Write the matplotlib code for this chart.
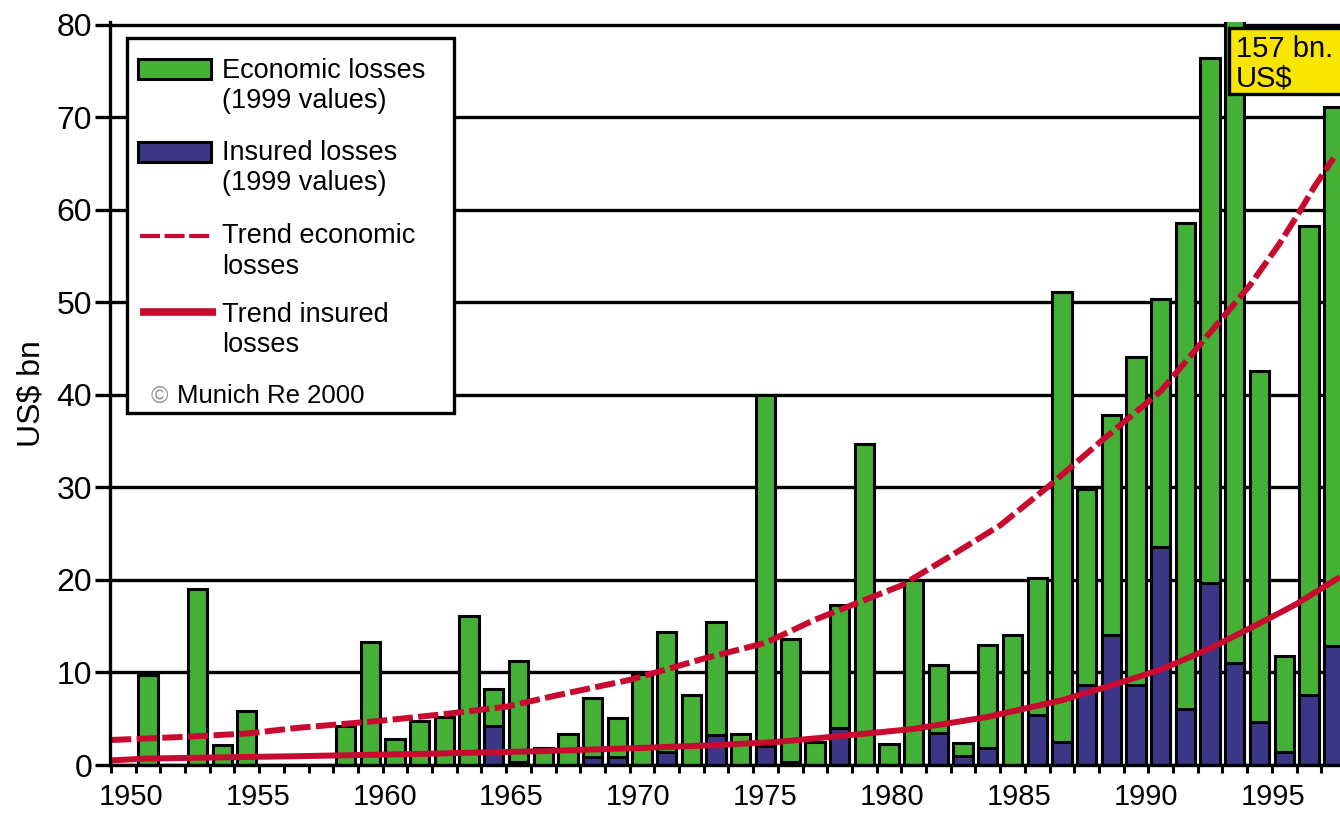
import numpy as np
import matplotlib
matplotlib.use("Agg")
import matplotlib.pyplot as plt
from matplotlib.patches import Rectangle
from matplotlib.lines import Line2D

# natural catastrophe losses, bn US$ (1999 values)
years = list(range(1950, 2000))
economic = [0, 9.7, 0, 19.0, 2.2, 5.8, 0, 0, 0, 4.2,
            13.3, 2.8, 4.8, 5.2, 16.1, 8.2, 11.2, 1.8, 3.3, 7.2,
            5.1, 9.8, 14.4, 7.6, 15.5, 3.3, 40.0, 13.6, 2.5, 17.3,
            34.7, 2.3, 20.0, 10.8, 2.4, 13.0, 14.1, 20.2, 51.1, 29.8,
            37.8, 44.1, 50.4, 58.6, 76.4, 157.0, 42.6, 11.8, 58.2, 71.1]
insured = [0, 0, 0, 0, 0, 0, 0, 0, 0, 0,
           0, 0, 0, 0, 0, 4.2, 0.3, 0, 0, 0.9,
           0.9, 0, 1.4, 0, 3.2, 0, 2.0, 0.3, 0, 4.0,
           0, 0, 0, 3.5, 1.0, 1.8, 0, 5.4, 2.5, 8.7,
           14.1, 8.7, 23.6, 6.1, 19.7, 11.0, 4.7, 1.4, 7.6, 12.9]

# trend curves
trend_econ_years = [1949.5, 1952.5, 1955, 1957, 1960.5, 1963, 1965.5, 1967.5, 1970.5, 1973.5, 1976,
                    1978, 1981.5, 1983.5, 1985.5, 1987.5, 1989.5, 1992, 1993.2, 1994.4, 1995.6,
                    1996.8, 1997.6, 1998.2, 1999]
trend_econ = [2.7, 3.05, 3.4, 4.0, 4.8, 5.5, 6.3, 7.5, 9.2, 11.5, 13.2,
              15.7, 19.4, 22.6, 25.9, 30.2, 34.8, 40.4, 44.2, 48.0, 51.8,
              56.3, 59.7, 62.4, 65.6]
trend_ins_years = [1949.5, 1951, 1957, 1962, 1967, 1971, 1974, 1976.5, 1979.5, 1982,
                   1985, 1988, 1990, 1992, 1994, 1996, 1997.5, 1999.25]
trend_ins = [0.5, 0.7, 0.95, 1.2, 1.5, 1.85, 2.15, 2.5, 3.25, 3.9,
             5.2, 7.0, 8.6, 10.3, 12.6, 15.3, 17.4, 20.3]

tick_years = [1950, 1955, 1960, 1965, 1970, 1975, 1980, 1985, 1990, 1995]

GREEN = "#44b035"
BLUE = "#3b3786"
RED = "#c80a30"
YELLOW = "#f8e500"

plt.rcParams["font.family"] = ["Liberation Sans", "DejaVu Sans"]

W, H = 1340, 813
fig = plt.figure(figsize=(W / 100, H / 100), dpi=100)
ax = fig.add_axes([110 / W, 1 - 765 / H, 1 - 110 / W, 743 / H])


def fx(px):
    return px / W


def fy(py):
    return 1 - py / H


# bars
ax.bar(years, economic, width=0.78, color=GREEN, edgecolor="black", linewidth=2.2, zorder=2)
ax.bar(years, insured, width=0.78, color=BLUE, edgecolor="black", linewidth=2.2, zorder=3)

# trends
ax.plot(trend_econ_years, trend_econ, color=RED, lw=4.3, dashes=(3.4, 0.9), zorder=4)
ax.plot(trend_ins_years, trend_ins, color=RED, lw=4.3, solid_capstyle="butt", zorder=4)

ax.set_xlim(1949.46, 1999.26)
ax.set_ylim(0, 80.3)

ax.set_yticks(range(0, 81, 10))
ax.yaxis.grid(True, color="black", lw=2.4)
ax.set_axisbelow(True)
ax.tick_params(axis="y", length=10.8, width=2.4, labelsize=23, pad=2)

# year slot ticks, labels sit a little off the slots as in the original
ax.set_xticks(np.arange(1949.5, 1999.3, 1), minor=True)
label_offsets = np.linspace(0.3, 1.55, len(tick_years))
ax.set_xticks(np.array(tick_years) + label_offsets, [str(y) for y in tick_years])
ax.tick_params(axis="x", which="minor", length=6, width=2.2)
ax.tick_params(axis="x", which="major", length=0, labelsize=21, pad=13)

for s in ["top", "right"]:
    ax.spines[s].set_visible(False)
for s in ["left", "bottom"]:
    ax.spines[s].set_linewidth(2.4)
    ax.spines[s].set_zorder(5)

ax.set_ylabel("US$ bn", fontsize=23)
ax.yaxis.set_label_coords(-0.052, 0.5)

# legend box drawn by hand to keep the original layout
fig.add_artist(Rectangle((fx(127), fy(413)), 327 / W, 375 / H, transform=fig.transFigure,
                         facecolor="white", edgecolor="black", lw=2.4, zorder=6))
fig.add_artist(Rectangle((fx(138), fy(79)), 73 / W, 20 / H, transform=fig.transFigure,
                         facecolor=GREEN, edgecolor="black", lw=2.2, zorder=7))
fig.add_artist(Rectangle((fx(138), fy(162)), 73 / W, 20 / H, transform=fig.transFigure,
                         facecolor=BLUE, edgecolor="black", lw=2.2, zorder=7))
fig.add_artist(Line2D([fx(140), fx(210)], [fy(236), fy(236)], transform=fig.transFigure,
                      color=RED, lw=3, dashes=(4.8, 1.1), zorder=7))
fig.add_artist(Line2D([fx(140), fx(216)], [fy(312), fy(312)], transform=fig.transFigure,
                      color=RED, lw=5.5, solid_capstyle="butt", zorder=7))

legend_lines = [("Economic losses", 78), ("(1999 values)", 108),
                ("Insured losses", 160), ("(1999 values)", 190),
                ("Trend economic", 243), ("losses", 274),
                ("Trend insured", 322), ("losses", 352)]
for txt, base in legend_lines:
    fig.text(fx(222), fy(base), txt, fontsize=19.5, va="baseline", ha="left", zorder=8)
fig.text(fx(151), fy(403), "©", fontsize=17, color="#999999", va="baseline", zorder=8)
fig.text(fx(177), fy(403), "Munich Re 2000", fontsize=18.5, va="baseline", zorder=8)

# off-scale label for 1995
fig.add_artist(Rectangle((fx(1229), fy(94)), 130 / W, 66 / H, transform=fig.transFigure,
                         facecolor=YELLOW, edgecolor="black", lw=2.4, zorder=6))
fig.text(fx(1236), fy(35), "157 bn.\nUS$", fontsize=21, va="top", ha="left",
         linespacing=1.05, zorder=8)

fig.savefig("out.png", dpi=100)
